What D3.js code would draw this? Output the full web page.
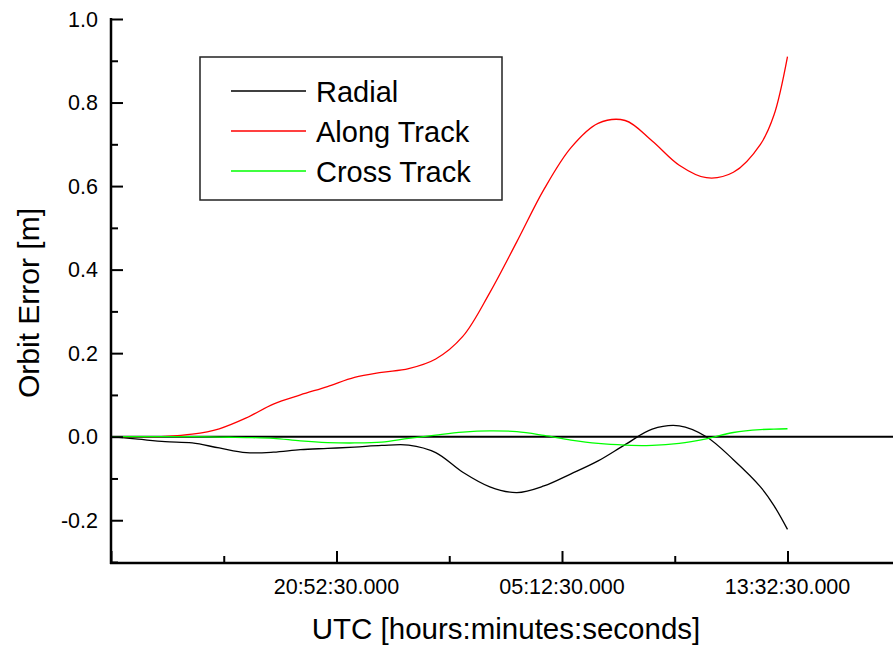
<!DOCTYPE html>
<html>
<head>
<meta charset="utf-8">
<script src="https://cdn.jsdelivr.net/npm/d3@7"></script>
<style>
  body { margin: 0; background: #fff; }
  text { font-family: Arial, "Liberation Sans", sans-serif; fill: #000; }
</style>
</head>
<body>
<div id="chart"></div>
<script>
// hours after 12:32:30 UTC
var hours  = [0, 1, 2, 3, 4, 5, 6, 7, 8, 9, 10, 11, 12, 13, 14, 15, 16, 17, 18, 19, 20, 21, 22, 23, 24, 24.5, 25];
var radial = [0, -0.006, -0.012, -0.015, -0.027, -0.038, -0.037, -0.031, -0.028, -0.025, -0.021, -0.020, -0.038, -0.085, -0.120, -0.134, -0.118, -0.089, -0.058, -0.019, 0.018, 0.026, 0.000, -0.055, -0.120, -0.165, -0.222];
var along  = [0, 0.000, 0.001, 0.006, 0.019, 0.045, 0.078, 0.100, 0.120, 0.142, 0.154, 0.163, 0.186, 0.240, 0.345, 0.467, 0.592, 0.692, 0.750, 0.757, 0.708, 0.650, 0.620, 0.633, 0.700, 0.770, 0.910];
var cross  = [0, 0.000, 0.000, 0.000, -0.001, -0.002, -0.004, -0.010, -0.014, -0.015, -0.013, -0.004, 0.004, 0.011, 0.014, 0.012, 0.003, -0.008, -0.016, -0.020, -0.021, -0.016, -0.005, 0.010, 0.017, 0.018, 0.019];

var seriesNames  = ['Radial', 'Along Track', 'Cross Track'];
var seriesColors = ['#000000', '#ff0000', '#00ff00'];

var yMajor = [-0.2, 0.0, 0.2, 0.4, 0.6, 0.8, 1.0];
var yMinor = [-0.3, -0.1, 0.1, 0.3, 0.5, 0.7, 0.9];
var xMajorHours = [0, 8 + 1/3, 16 + 2/3, 25];
var xMinorHours = [4 + 1/6, 12.5, 20 + 5/6, 29 + 1/6];

var width = 893, height = 646;
var start = Date.UTC(2000, 0, 1, 12, 32, 30);
function toDate(h) { return new Date(start + h * 3600000); }
var fmt = d3.utcFormat('%H:%M:%S.000');

var x = d3.scaleTime()
    .domain([toDate(0), toDate(25)])
    .range([111, 787.5]);
var y = d3.scaleLinear()
    .domain([-0.3, 1.0])
    .range([562, 19]);

var svg = d3.select('#chart').append('svg')
    .attr('width', width)
    .attr('height', height);

// zero line
svg.append('line')
    .attr('x1', 111).attr('x2', width)
    .attr('y1', y(0)).attr('y2', y(0))
    .attr('stroke', '#000').attr('stroke-width', 2);

// series
var line = d3.line()
    .x(function(d) { return x(toDate(d[0])); })
    .y(function(d) { return y(d[1]); })
    .curve(d3.curveCatmullRom.alpha(0.5));

[radial, along, cross].forEach(function(vals, i) {
  svg.append('path')
      .datum(hours.map(function(h, j) { return [h, vals[j]]; }))
      .attr('fill', 'none')
      .attr('stroke', seriesColors[i])
      .attr('stroke-width', 1.3)
      .attr('d', line);
});

// y axis
var yAxis = svg.append('g').attr('transform', 'translate(111,0)');
yAxis.call(d3.axisRight(y).tickValues(yMajor).tickSize(12).tickFormat(''));
yAxis.append('g').call(d3.axisRight(y).tickValues(yMinor).tickSize(7).tickFormat(''));
yAxis.selectAll('.domain').remove();
yAxis.selectAll('line').attr('stroke', '#000').attr('stroke-width', 2);
yAxis.append('line').attr('x1', 0).attr('x2', 0).attr('y1', 18).attr('y2', 564)
    .attr('stroke', '#000').attr('stroke-width', 2.5);
yAxis.selectAll('.ylab').data(yMajor).enter().append('text')
    .attr('x', -13).attr('y', function(d) { return y(d) + 7.5; })
    .attr('text-anchor', 'end')
    .style('font-size', '21.5px')
    .text(function(d) { return d3.format('.1f')(d).replace('−', '-'); });

// x axis
var xAxis = svg.append('g').attr('transform', 'translate(0,563)');
xAxis.call(d3.axisTop(x).tickValues(xMajorHours.map(toDate)).tickSize(12).tickFormat(''));
xAxis.append('g').call(d3.axisTop(x).tickValues(xMinorHours.map(toDate)).tickSize(7).tickFormat(''));
xAxis.selectAll('.domain').remove();
xAxis.selectAll('line').attr('stroke', '#000').attr('stroke-width', 2);
xAxis.append('line').attr('x1', 110).attr('x2', width).attr('y1', 0).attr('y2', 0)
    .attr('stroke', '#000').attr('stroke-width', 2.5);
xAxis.selectAll('.xlab').data(xMajorHours.slice(1)).enter().append('text')
    .attr('x', function(d) { return x(toDate(d)); }).attr('y', 31)
    .attr('text-anchor', 'middle')
    .style('font-size', '21.5px')
    .text(function(d) { return fmt(toDate(d)); });

// axis titles
svg.append('text')
    .attr('x', 506).attr('y', 639)
    .attr('text-anchor', 'middle')
    .style('font-size', '29.5px')
    .text('UTC [hours:minutes:seconds]');
svg.append('text')
    .attr('transform', 'translate(39,303) rotate(-90)')
    .attr('text-anchor', 'middle')
    .style('font-size', '30px')
    .text('Orbit Error [m]');

// legend
var legend = svg.append('g');
legend.append('rect')
    .attr('x', 200).attr('y', 57).attr('width', 302).attr('height', 143)
    .attr('fill', '#fff').attr('stroke', '#222').attr('stroke-width', 1.5);
seriesNames.forEach(function(name, i) {
  var ly = 91 + i * 40;
  legend.append('line')
      .attr('x1', 231).attr('x2', 306).attr('y1', ly).attr('y2', ly)
      .attr('stroke', seriesColors[i]).attr('stroke-width', 1.3);
  legend.append('text')
      .attr('x', 316).attr('y', ly + 11)
      .style('font-size', '29px')
      .text(name);
});
</script>
</body>
</html>
